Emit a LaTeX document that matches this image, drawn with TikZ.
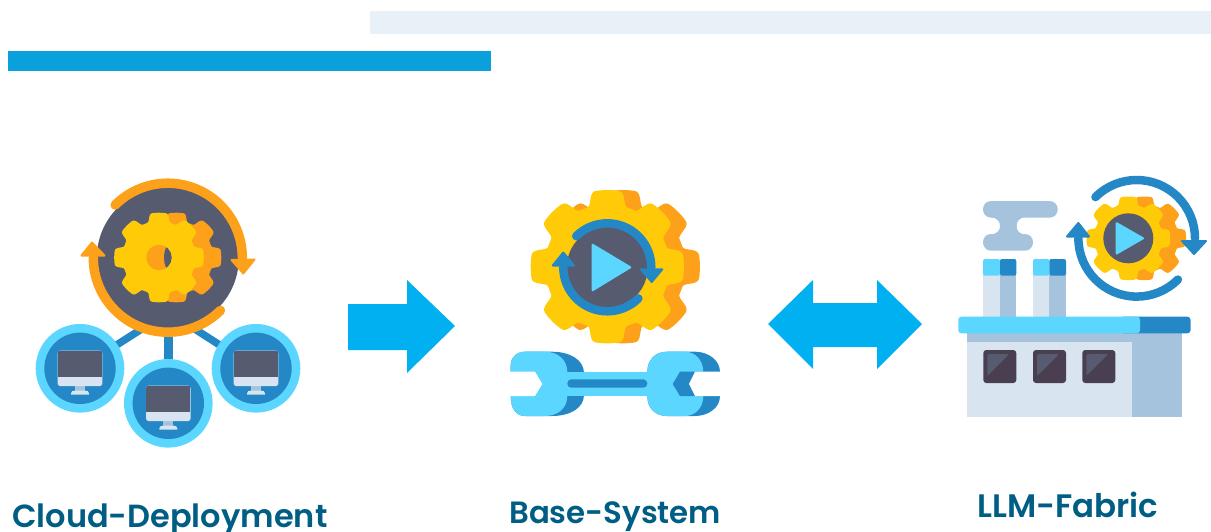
\documentclass[tikz,border=0pt]{standalone}
\usepackage{fontspec}
\newfontfamily\lab{Poppins SemiBold}
\definecolor{sky}{HTML}{5AD6FF}
\definecolor{midb}{HTML}{2488C6}
\definecolor{slate}{HTML}{575B70}
\definecolor{gold}{HTML}{FFCB08}
\definecolor{amber}{HTML}{FDA11B}
\definecolor{pale}{HTML}{D8E5F1}
\definecolor{steel}{HTML}{A5C3DD}
\definecolor{plum}{HTML}{4A3F50}
\definecolor{arrowb}{HTML}{00B0F0}
\definecolor{labelc}{HTML}{005E84}
\definecolor{topbar}{HTML}{E8F0F8}
\definecolor{titlebar}{HTML}{0AA0DC}
\pgfmathdeclarefunction{gearr}{1}{%
  \pgfmathparse{cos(8*#1)}\let\gc\pgfmathresult
  \pgfmathparse{\gc+0.45*(1-\gc*\gc)}\let\gs\pgfmathresult
  \pgfmathparse{1.5*\gs-0.5*\gs*\gs*\gs}\let\gu\pgfmathresult
  \pgfmathparse{1.5*\gu-0.5*\gu*\gu*\gu}\let\gv\pgfmathresult
  \pgfmathparse{0.90+0.095*\gv+0.012*(1-cos(4*#1))/2}}
\newcommand\gearfill[4]{%
  \fill[#4] plot[domain=0:360,samples=289] ({#1+#3*gearr(\x)*cos(\x)},{#2+#3*gearr(\x)*sin(\x)}) -- cycle;}
\newcommand\cycle[4]{% cx cy r colour+width
  \draw[#4,line cap=round] (#1,#2)++(-135:#3) arc[start angle=-135,end angle=0,radius=#3];
  \draw[#4,line cap=round] (#1,#2)++(180:#3) arc[start angle=180,end angle=45,radius=#3];}
\newcommand\monitor[2]{%
  \begin{scope}[shift={(#1,#2)}]
    \fill[sky] (0,0) circle[radius=44.3];
    \fill[midb] (0,0) circle[radius=35.7];
    \fill[steel] (-5,17) rectangle (5,23);
    \fill[pale] (-9,26.4) -- (-9,25) .. controls (-9,23) and (-7,22.3) .. (-5,22.3) -- (5,22.3) .. controls (7,22.3) and (9,23) .. (9,25) -- (9,26.4) -- cycle;
    \fill[pale,rounded corners=2.5] (-22.3,-17.7) rectangle (22.3,17.7);
    \begin{scope}
      \clip[rounded corners=2.5] (-22.3,-17.7) rectangle (22.3,17.7);
      \fill[slate] (-22.3,-17.7) rectangle (22.3,8.7);
    \end{scope}
  \end{scope}}
\newcommand\windowbox[1]{%
  \fill[plum,rounded corners=3] (#1,350) rectangle ++(33,33);
  \fill[slate,rounded corners=2] (#1+4,354) -- (#1+26,354) -- (#1+4,376) -- cycle;}
\tikzset{rtri/.style={fill=#1,draw=#1,line width=2pt,line join=round},
  labelt/.style={font=\lab\fontsize{#1}{36}\selectfont,text=labelc,anchor=base west,inner sep=0pt}}
\begin{document}
\begin{tikzpicture}[x=1pt,y=1pt,yscale=-1]
\useasboundingbox (0,0) rectangle (1211,531);
% top bars
\fill[topbar] (370,11) rectangle (1211,34);
\fill[titlebar] (8,51) rectangle (491,71);
% block arrows
\fill[arrowb] (348,304) -- (407,304) -- (407,280) -- (455,326) -- (407,373) -- (407,350) -- (348,350) -- cycle;
\fill[arrowb] (768,324) -- (813,280) -- (813,303) -- (877,303) -- (877,280) -- (922,324) -- (877,369) -- (877,347) -- (813,347) -- (813,369) -- cycle;
% --- icon 1
\draw[midb,line width=7.5pt] (168.3,312) -- (80,368.3);
\draw[midb,line width=7.5pt] (168.3,312) -- (256,368.3);
\draw[midb,line width=9pt] (168.3,312) -- (168.3,403.3);
\monitor{80}{368.3}
\monitor{256}{368.3}
\monitor{168.3}{403.3}
\fill[slate] (167.8,258) circle[radius=71];
\cycle{167.8}{257.7}{74.5}{amber,line width=9.5pt}
\draw[rtri=amber] (231.5,260) -- (254.5,259.5) -- (243.3,273.5) -- cycle;
\draw[rtri=amber] (81.5,255.5) -- (104.5,255.5) -- (92,242.5) -- cycle;
\gearfill{176.5}{257.5}{45}{amber}
\gearfill{159}{257.5}{45}{gold}
\fill[amber] (159,257.5) circle[radius=12.7];
\begin{scope}
  \clip (159,257.5) circle[radius=12.7];
  \fill[slate] (169.3,257.5) ellipse[x radius=5.3,y radius=12.6];
\end{scope}
% --- icon 2
\gearfill{623.3}{266.7}{77}{amber}
\gearfill{607.3}{266.7}{77}{gold}
\fill[slate] (607.3,267.3) circle[radius=40.5];
\cycle{607.3}{267.3}{44}{midb,line width=8.5pt}
\draw[rtri=midb] (641,269.3) -- (662.3,269.3) -- (651.7,282) -- cycle;
\draw[rtri=midb] (552.7,265.5) -- (574,265.5) -- (563.3,252.5) -- cycle;
\draw[rtri=sky] (592.7,244.8) -- (630.3,267.3) -- (592.7,290.2) -- cycle;
% wrench
\fill[midb] (510.7,371.7) -- (510.7,365) .. controls (510.7,357) and (517,351.7) .. (525,351.7) -- (552,351.7) .. controls (570,351.7) and (584,360) .. (584,373) -- (584,395) .. controls (584,408) and (570,416) .. (552,416) -- (525,416) .. controls (517,416) and (510.7,410) .. (510.7,396) -- cycle;
\fill[sky] (510.7,371.7) -- (510.7,365) .. controls (510.7,357) and (517,351.7) .. (525,351.7) -- (545,351.7) .. controls (558,351.7) and (567.3,360) .. (567.3,371.7) -- (567.3,396) .. controls (567.3,408) and (558,416) .. (545,416) -- (525,416) .. controls (517,416) and (510.7,410) .. (510.7,396) -- cycle;
\fill[midb] (720,371.7) -- (720,372) .. controls (720,360) and (708,351.7) .. (695,351.7) -- (667,351.7) .. controls (655,351.7) and (647.3,360) .. (647.3,372) -- (647.3,396) .. controls (647.3,408) and (655,416) .. (667,416) -- (695,416) .. controls (708,416) and (720,408) .. (720,396) -- cycle;
\fill[sky] (703.3,372) .. controls (703.3,360) and (695,351.7) .. (685,351.7) -- (667,351.7) .. controls (655,351.7) and (647.3,360) .. (647.3,372) -- (647.3,396) .. controls (647.3,408) and (655,416) .. (667,416) -- (685,416) .. controls (695,416) and (703.3,408) .. (703.3,396) -- cycle;
\fill[sky] (560,371.7) rectangle (655,396);
\fill[midb,rounded corners=4] (567.3,379.3) rectangle (647.3,387.7);
\fill[white] (509,371.7) -- (535,371.7) -- (542.3,384) -- (535,396) -- (509,396) -- cycle;
\fill[midb] (703.3,371.7) -- (680,371.7) -- (672.7,384) -- (680,396) -- (703.3,396) -- cycle;
\fill[white] (721,371.7) -- (695,371.7) -- (689,384) -- (695,396) -- (721,396) -- cycle;
% --- icon 3
\fill[steel,rounded corners=8] (983,201) rectangle (1057.7,217.7);
\fill[steel,rounded corners=8] (983,234) rectangle (1033,250.7);
\fill[steel] (990,217) .. controls (998,218) and (1000,222) .. (1000,226) .. controls (1000,230) and (998,234) .. (990,234.5) -- (1026,234.5) .. controls (1018,234) and (1016.7,230) .. (1016.7,226) .. controls (1016.7,222) and (1018,218) .. (1026,217) -- cycle;
% chimneys
\fill[pale] (983,275) rectangle (1000,317);
\fill[steel] (1000,275) rectangle (1016.3,317);
\fill[sky,rounded corners=2] (983,275.7) -- (983,259) -- (1000,259) -- (1000,275.7) -- cycle;
\fill[midb,rounded corners=2] (1000,275.7) -- (1000,259) -- (1016.3,259) -- (1016.3,275.7) -- cycle;
\fill[pale] (1033,275) rectangle (1049.3,317);
\fill[steel] (1049.3,275) rectangle (1066,317);
\fill[sky,rounded corners=2] (1033,275.7) -- (1033,259) -- (1049.3,259) -- (1049.3,275.7) -- cycle;
\fill[midb,rounded corners=2] (1049.3,275.7) -- (1049.3,259) -- (1066,259) -- (1066,275.7) -- cycle;
% building
\fill[pale] (966.7,333) rectangle (1181.7,416.7);
\fill[steel] (966.7,333) rectangle (1181.7,341.7);
\fill[steel] (1132.3,333) rectangle (1181.7,416.7);
\fill[midb,rounded corners=3] (1120,316.7) rectangle (1190.5,333.3);
\fill[sky,rounded corners=3] (958.3,316.7) rectangle (1140,333.3);
\windowbox{983.3}
\windowbox{1033}
\windowbox{1082.3}
% small gear
\gearfill{1144.3}{238.3}{42}{amber}
\gearfill{1128.3}{238.3}{42}{gold}
\fill[slate] (1128.3,238.3) circle[radius=25];
\draw[rtri=sky] (1116.7,223.2) -- (1143,238.3) -- (1116.7,253.5) -- cycle;
\cycle{1136.7}{238.3}{58.3}{midb,line width=8.5pt}
\draw[rtri=midb] (1182,241) -- (1206,241) -- (1194,254) -- cycle;
\draw[rtri=midb] (1067,236.5) -- (1089,236.5) -- (1078.3,223) -- cycle;
% labels
\node[labelt=32] (cloud) at (12,527) {Cloud-Deployment};
\node[labelt=30.8] (base) at (509,523) {Base-System};
\node[labelt=32.5] (fabric) at (977,517) {LLM-Fabric};
\end{tikzpicture}
\end{document}
